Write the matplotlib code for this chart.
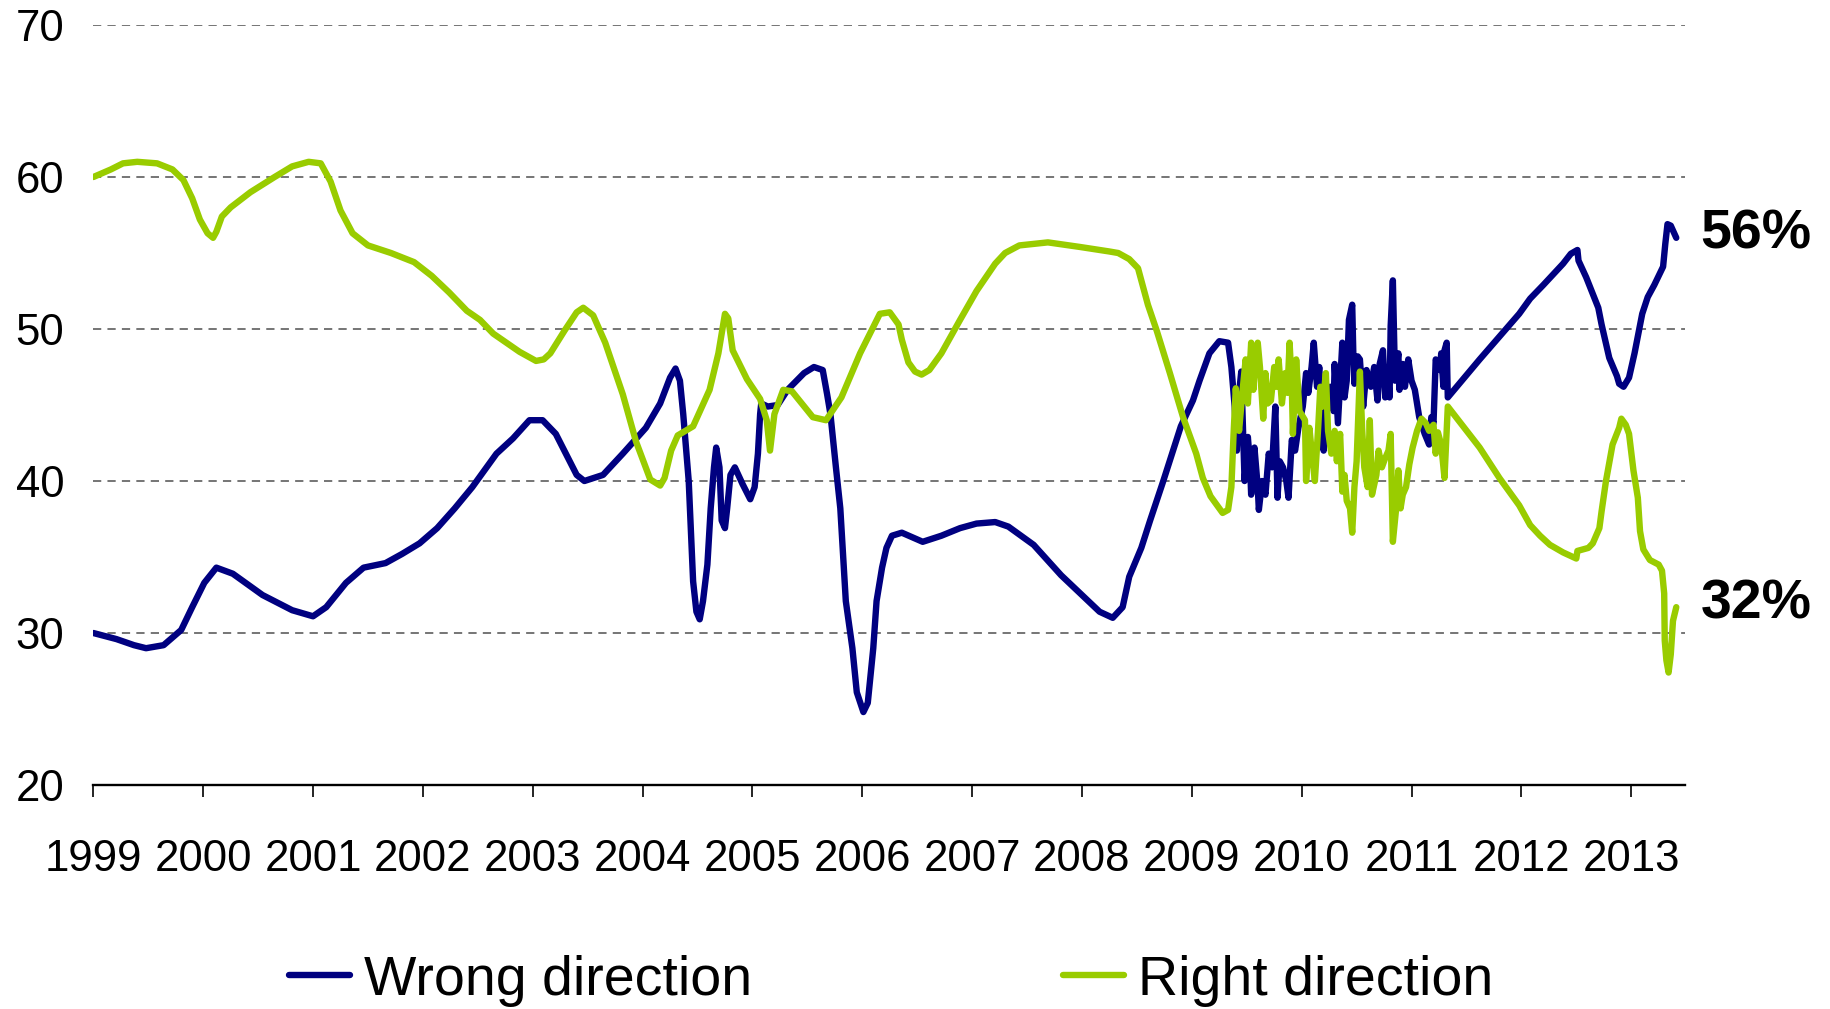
import matplotlib
matplotlib.use("Agg")
import matplotlib.pyplot as plt

plt.rcParams['font.family'] = ['Liberation Sans', 'DejaVu Sans']

# ---------------- data ----------------
wrong_years = [
    1999.00, 1999.21, 1999.37, 1999.48, 1999.64, 1999.80, 1999.90, 2000.01, 2000.12, 2000.27,
    2000.54, 2000.81, 2001.00, 2001.12, 2001.30, 2001.46, 2001.66, 2001.81, 2001.97, 2002.13,
    2002.29, 2002.45, 2002.67, 2002.82, 2002.97, 2003.09, 2003.21, 2003.40, 2003.47, 2003.64,
    2003.82, 2004.03, 2004.16, 2004.25, 2004.30, 2004.34, 2004.37, 2004.42, 2004.46, 2004.49,
    2004.52, 2004.55, 2004.59, 2004.62, 2004.65, 2004.67, 2004.70, 2004.72, 2004.75, 2004.77,
    2004.80, 2004.84, 2004.91, 2004.98, 2005.02, 2005.05, 2005.07, 2005.08, 2005.14, 2005.23,
    2005.32, 2005.47, 2005.56, 2005.64, 2005.68, 2005.71, 2005.76, 2005.80, 2005.85, 2005.91,
    2005.95, 2006.01, 2006.05, 2006.10, 2006.13, 2006.18, 2006.22, 2006.27, 2006.36, 2006.55,
    2006.72, 2006.89, 2007.04, 2007.21, 2007.33, 2007.56, 2007.81, 2008.16, 2008.28, 2008.37,
    2008.43, 2008.54, 2008.62, 2008.74, 2008.90, 2009.01, 2009.07, 2009.16, 2009.25, 2009.33,
    2009.36, 2009.39, 2009.41, 2009.43, 2009.45, 2009.48, 2009.51, 2009.53, 2009.54, 2009.57,
    2009.60, 2009.61, 2009.64, 2009.67, 2009.70, 2009.73, 2009.76, 2009.78, 2009.80, 2009.83,
    2009.86, 2009.88, 2009.91, 2009.94, 2009.97, 2010.01, 2010.04, 2010.06, 2010.09, 2010.11,
    2010.14, 2010.16, 2010.18, 2010.20, 2010.23, 2010.26, 2010.29, 2010.30, 2010.33, 2010.35,
    2010.37, 2010.39, 2010.41, 2010.43, 2010.46, 2010.47, 2010.48, 2010.51, 2010.53, 2010.56,
    2010.59, 2010.63, 2010.66, 2010.69, 2010.71, 2010.74, 2010.76, 2010.78, 2010.80, 2010.81,
    2010.83, 2010.85, 2010.88, 2010.89, 2010.92, 2010.94, 2010.97, 2011.00, 2011.03, 2011.07,
    2011.12, 2011.16, 2011.18, 2011.20, 2011.22, 2011.26, 2011.27, 2011.29, 2011.30, 2011.32,
    2011.33, 2011.62, 2011.80, 2011.98, 2012.08, 2012.20, 2012.29, 2012.38, 2012.45, 2012.51,
    2012.52, 2012.59, 2012.70, 2012.73, 2012.80, 2012.87, 2012.89, 2012.93, 2012.98, 2013.03,
    2013.10, 2013.15, 2013.21, 2013.29, 2013.31, 2013.33, 2013.36, 2013.41,
]
wrong_values = [
    30.0, 29.6, 29.2, 29.0, 29.2, 30.2, 31.7, 33.3, 34.3, 33.9,
    32.5, 31.5, 31.1, 31.7, 33.3, 34.3, 34.6, 35.2, 35.9, 36.9,
    38.2, 39.6, 41.8, 42.8, 44.0, 44.0, 43.1, 40.4, 40.0, 40.4,
    41.8, 43.5, 45.1, 46.8, 47.4, 46.6, 44.4, 40.0, 33.4, 31.4,
    30.9, 32.1, 34.5, 38.2, 40.9, 42.2, 40.9, 37.4, 36.9, 38.2,
    40.4, 40.9, 39.8, 38.8, 39.6, 41.8, 44.4, 45.1, 44.9, 45.0,
    46.0, 47.1, 47.5, 47.3, 45.7, 44.4, 40.9, 38.2, 32.1, 29.0,
    26.1, 24.8, 25.4, 29.0, 32.1, 34.3, 35.6, 36.4, 36.6, 36.0,
    36.4, 36.9, 37.2, 37.3, 37.0, 35.8, 33.8, 31.4, 31.0, 31.7,
    33.7, 35.6, 37.4, 40.0, 43.6, 45.3, 46.6, 48.4, 49.2, 49.1,
    47.5, 44.9, 42.0, 45.8, 47.2, 40.0, 42.9, 41.1, 39.1, 42.2,
    39.6, 38.1, 40.0, 39.1, 41.8, 40.9, 44.9, 38.9, 41.3, 40.9,
    40.0, 38.9, 42.7, 42.0, 43.5, 44.9, 47.1, 45.8, 47.5, 49.1,
    46.2, 47.5, 44.2, 42.0, 45.1, 46.2, 44.6, 47.7, 43.8, 46.4,
    49.1, 45.5, 46.6, 50.6, 51.6, 48.4, 46.4, 48.2, 48.0, 44.9,
    47.3, 46.2, 47.5, 45.3, 47.7, 48.6, 45.5, 47.5, 45.5, 50.2,
    53.2, 46.6, 48.4, 46.0, 47.7, 46.2, 48.0, 46.6, 46.0, 44.2,
    43.1, 42.4, 44.2, 43.8, 48.0, 47.3, 48.4, 46.2, 48.6, 49.1,
    45.5, 48.0, 49.5, 51.0, 52.0, 52.9, 53.6, 54.3, 54.95, 55.2,
    54.5, 53.4, 51.4, 50.3, 48.1, 46.9, 46.4, 46.2, 46.8, 48.4,
    51.0, 52.1, 52.9, 54.1, 55.6, 56.9, 56.8, 56.0,
]

right_years = [
    1999.00, 1999.16, 1999.27, 1999.40, 1999.58, 1999.72, 1999.82, 1999.90, 1999.97, 2000.04,
    2000.09, 2000.12, 2000.17, 2000.25, 2000.43, 2000.65, 2000.81, 2000.96, 2001.07, 2001.16,
    2001.25, 2001.36, 2001.50, 2001.71, 2001.92, 2002.08, 2002.24, 2002.40, 2002.52, 2002.64,
    2002.88, 2003.03, 2003.10, 2003.16, 2003.29, 2003.40, 2003.46, 2003.55, 2003.66, 2003.82,
    2003.94, 2004.07, 2004.16, 2004.20, 2004.26, 2004.32, 2004.46, 2004.61, 2004.69, 2004.75,
    2004.78, 2004.82, 2004.95, 2005.07, 2005.13, 2005.16, 2005.20, 2005.28, 2005.36, 2005.55,
    2005.67, 2005.81, 2005.98, 2006.16, 2006.25, 2006.33, 2006.36, 2006.42, 2006.48, 2006.54,
    2006.61, 2006.72, 2006.89, 2007.04, 2007.21, 2007.30, 2007.43, 2007.69, 2007.98, 2008.25,
    2008.33, 2008.43, 2008.51, 2008.60, 2008.68, 2008.80, 2008.92, 2009.04, 2009.10, 2009.17,
    2009.28, 2009.33, 2009.36, 2009.38, 2009.40, 2009.43, 2009.46, 2009.49, 2009.51, 2009.54,
    2009.56, 2009.58, 2009.60, 2009.62, 2009.65, 2009.67, 2009.69, 2009.72, 2009.75, 2009.77,
    2009.79, 2009.82, 2009.85, 2009.87, 2009.89, 2009.91, 2009.92, 2009.95, 2009.98, 2010.03,
    2010.04, 2010.07, 2010.10, 2010.12, 2010.15, 2010.17, 2010.19, 2010.22, 2010.24, 2010.27,
    2010.30, 2010.32, 2010.35, 2010.37, 2010.39, 2010.41, 2010.44, 2010.46, 2010.48, 2010.50,
    2010.53, 2010.55, 2010.57, 2010.60, 2010.62, 2010.64, 2010.68, 2010.70, 2010.73, 2010.76,
    2010.79, 2010.81, 2010.83, 2010.86, 2010.88, 2010.90, 2010.92, 2010.95, 2010.98, 2011.01,
    2011.05, 2011.09, 2011.13, 2011.16, 2011.20, 2011.22, 2011.24, 2011.27, 2011.30, 2011.33,
    2011.62, 2011.80, 2011.98, 2012.08, 2012.17, 2012.26, 2012.38, 2012.50, 2012.51, 2012.61,
    2012.65, 2012.71, 2012.73, 2012.77, 2012.83, 2012.89, 2012.91, 2012.95, 2012.98, 2013.02,
    2013.06, 2013.08, 2013.11, 2013.17, 2013.25, 2013.28, 2013.30, 2013.305, 2013.32, 2013.34,
    2013.36, 2013.38, 2013.41,
]
right_values = [
    60.0, 60.5, 60.9, 61.0, 60.9, 60.5, 59.8, 58.6, 57.2, 56.3,
    56.0, 56.4, 57.4, 58.0, 59.0, 60.0, 60.7, 61.0, 60.9, 59.7,
    57.8, 56.3, 55.5, 55.0, 54.4, 53.5, 52.4, 51.2, 50.6, 49.7,
    48.5, 47.9, 48.0, 48.4, 49.9, 51.1, 51.4, 50.9, 49.1, 45.7,
    42.6, 40.1, 39.7, 40.2, 42.0, 43.0, 43.6, 46.0, 48.4, 51.0,
    50.7, 48.6, 46.7, 45.4, 44.0, 42.0, 44.4, 46.0, 45.9, 44.2,
    44.0, 45.5, 48.4, 51.0, 51.1, 50.3, 49.3, 47.8, 47.2, 47.0,
    47.3, 48.4, 50.6, 52.5, 54.3, 55.0, 55.5, 55.7, 55.4, 55.1,
    55.0, 54.6, 54.0, 51.6, 49.9, 47.1, 44.2, 41.8, 40.2, 39.0,
    37.9, 38.1, 39.6, 43.1, 46.1, 43.3, 45.8, 48.0, 45.1, 49.1,
    46.0, 48.1, 49.1, 47.5, 44.1, 47.1, 45.1, 45.3, 47.5, 46.2,
    48.0, 45.1, 47.1, 45.8, 49.1, 46.2, 43.1, 48.0, 44.6, 44.0,
    40.0, 43.5, 41.3, 40.0, 43.5, 46.2, 44.9, 47.1, 43.3, 41.8,
    43.3, 41.3, 43.1, 39.3, 40.4, 38.7, 38.2, 36.6, 39.6, 41.3,
    47.2, 43.5, 40.9, 39.6, 44.0, 39.1, 40.4, 42.0, 40.9, 41.5,
    42.0, 43.1, 36.0, 38.2, 40.7, 38.2, 39.1, 39.6, 41.1, 42.2,
    43.3, 44.1, 43.8, 43.3, 43.7, 41.8, 43.2, 42.4, 40.2, 44.9,
    42.2, 40.2, 38.4, 37.1, 36.4, 35.8, 35.3, 34.9, 35.4, 35.6,
    35.9, 36.9, 38.0, 40.0, 42.4, 43.5, 44.1, 43.7, 43.1, 40.7,
    38.9, 36.7, 35.5, 34.8, 34.5, 34.1, 32.6, 29.5, 28.2, 27.4,
    28.6, 30.8, 31.7,
]

series_labels = ["Wrong direction", "Right direction"]
end_labels = ["56%", "32%"]
end_label_values = [56.2, 31.9]
year_ticks = list(range(1999, 2014))
y_ticks = [20, 30, 40, 50, 60, 70]

# ---------------- figure ----------------
NAVY = "#000080"
GREEN = "#99CC00"

fig = plt.figure(figsize=(18.3, 10.09), dpi=100)
ax = fig.add_axes([0.051, 0.222, 0.8698, 0.7532])

lw = 4.6
l1, = ax.plot(wrong_years, wrong_values, color=NAVY, lw=lw,
              solid_joinstyle="round", solid_capstyle="round", zorder=3)
l2, = ax.plot(right_years, right_values, color=GREEN, lw=lw,
              solid_joinstyle="round", solid_capstyle="round", zorder=4)

ax.set_xlim(1999, 2013.49)
ax.set_ylim(20, 70)
ax.set_xticks(year_ticks)
ax.set_xticklabels([str(y) for y in year_ticks])
ax.set_yticks(y_ticks)

for v in y_ticks[1:]:
    ax.axhline(v, color="#707070", lw=1.35, linestyle=(0, (4.4, 3.3)), zorder=1)

for s in ["top", "right", "left"]:
    ax.spines[s].set_visible(False)
ax.spines["bottom"].set_linewidth(1.7)
ax.spines["bottom"].set_color("black")
ax.spines["bottom"].set_zorder(5)

ax.tick_params(axis="x", direction="out", length=8.6, width=1.2, pad=30,
               labelsize=31.5, colors="black")
ax.tick_params(axis="y", length=0, pad=21, labelsize=31.5, colors="black")

for lab, val in zip(end_labels, end_label_values):
    ax.text(2013.63, val, lab, fontsize=40, fontweight="bold", ha="left",
            va="center", clip_on=False)

fig.legend([l1, l2], series_labels, loc="center left",
           bbox_to_anchor=(0.158, 0.028), ncol=2, frameon=False,
           fontsize=40, handlelength=1.1, handletextpad=0.25,
           columnspacing=5.6, borderpad=0, borderaxespad=0)

fig.savefig("out.png", dpi=100)
